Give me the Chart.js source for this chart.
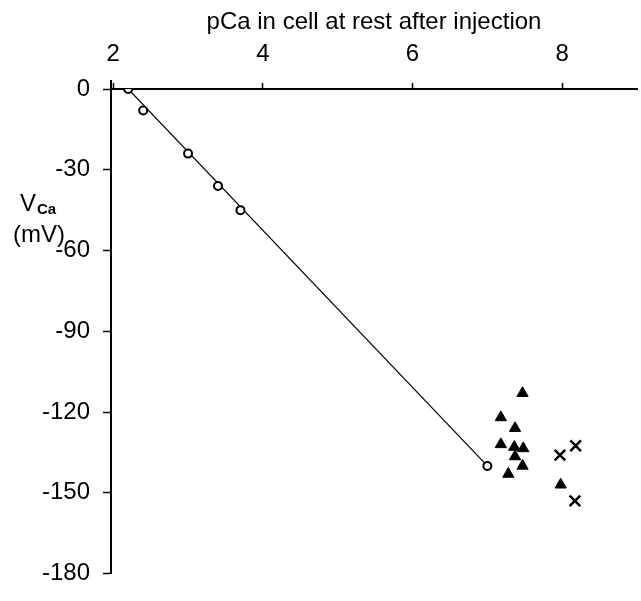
<!DOCTYPE html>
<html>
<head>
<meta charset="utf-8">
<script src="https://cdn.jsdelivr.net/npm/chart.js@4.4.0/dist/chart.umd.min.js"></script>
<style>
  html, body { margin: 0; padding: 0; background: #fff; overflow: hidden; }
  #wrap { width: 647px; height: 601px; }
</style>
</head>
<body>
<div id="wrap"><canvas id="chart" width="647" height="601"></canvas></div>
<script>
'use strict';

// --- data -----------------------------------------------------------
// fitted line through the injection points
const FIT_PCA = [2.2, 7.0];
const FIT_VCA = [0, -140];

// open circles: calcium injections
const INJ_PCA = [2.2, 2.4, 3.0, 3.4, 3.7, 7.0];
const INJ_VCA = [0, -8, -24, -36, -45, -140];

// filled triangles: cells at rest
const REST_PCA = [7.47, 7.18, 7.37, 7.18, 7.36, 7.48, 7.37, 7.47, 7.28, 7.98];
const REST_VCA = [-113, -122, -126, -132, -133, -133.5, -136.5, -140, -143, -147];

// crosses
const X_PCA = [7.97, 8.18, 8.17];
const X_VCA = [-136, -132.5, -153];

const X_TICKS = [2, 4, 6, 8];
const Y_TICKS = [0, -30, -60, -90, -120, -150, -180];

const FONT = 'Arial, "Liberation Sans", sans-serif';

const pts = (xs, ys) => xs.map((x, i) => ({ x, y: ys[i] }));

// y-axis caption with subscript, plus the short stub of the y axis above 0
const captionPlugin = {
  id: 'caption',
  afterDraw(chart) {
    const { ctx, chartArea } = chart;
    ctx.save();
    ctx.strokeStyle = '#000';
    ctx.lineWidth = 2;
    ctx.beginPath();
    ctx.moveTo(chartArea.left, chartArea.top);
    ctx.lineTo(chartArea.left, chartArea.top - 9);
    ctx.stroke();

    ctx.fillStyle = '#000';
    ctx.textBaseline = 'alphabetic';
    ctx.textAlign = 'left';
    ctx.font = '24px ' + FONT;
    ctx.fillText('V', 20, 211);
    ctx.font = 'bold 15px ' + FONT;
    ctx.fillText('Ca', 37, 214);
    ctx.font = '24px ' + FONT;
    ctx.fillText('(mV)', 13, 242);
    ctx.restore();
  }
};

new Chart(document.getElementById('chart'), {
  type: 'scatter',
  data: {
    datasets: [
      {
        type: 'line',
        data: pts(FIT_PCA, FIT_VCA),
        borderColor: '#000',
        borderWidth: 1.2,
        pointRadius: 0,
        fill: false,
        order: 3
      },
      {
        data: pts(INJ_PCA, INJ_VCA),
        pointStyle: 'circle',
        pointRadius: 4,
        borderWidth: 2,
        borderColor: '#000',
        backgroundColor: '#fff',
        order: 2
      },
      {
        data: pts(REST_PCA, REST_VCA),
        pointStyle: 'triangle',
        pointRadius: 6.5,
        borderWidth: 1,
        borderColor: '#000',
        backgroundColor: '#000',
        order: 1
      },
      {
        data: pts(X_PCA, X_VCA),
        pointStyle: 'crossRot',
        pointRadius: 7.5,
        borderWidth: 2.5,
        borderColor: '#000',
        order: 1
      }
    ]
  },
  options: {
    responsive: false,
    animation: false,
    events: [],
    layout: { padding: { top: 0, right: 0, bottom: 9, left: 0 } },
    plugins: {
      legend: { display: false },
      tooltip: { enabled: false }
    },
    scales: {
      x: {
        type: 'linear',
        position: 'top',
        min: 1.97,
        max: 9,
        afterBuildTicks: s => { s.ticks = X_TICKS.map(v => ({ value: v })); },
        afterFit: s => { s.height = 89; },
        grid: {
          drawOnChartArea: false,
          drawTicks: true,
          tickLength: 6,
          tickWidth: 1.5,
          tickColor: '#000'
        },
        border: { display: true, color: '#000', width: 2 },
        ticks: {
          color: '#000',
          font: { family: FONT, size: 24 },
          padding: 14,
          maxRotation: 0
        },
        title: {
          display: true,
          text: 'pCa in cell at rest after injection',
          color: '#000',
          font: { family: FONT, size: 24 },
          padding: { top: 8, bottom: 0 }
        }
      },
      y: {
        type: 'linear',
        min: -180,
        max: 0,
        afterBuildTicks: s => { s.ticks = Y_TICKS.map(v => ({ value: v })); },
        afterFit: s => { s.width = 111; },
        grid: {
          drawOnChartArea: false,
          drawTicks: true,
          tickLength: 8,
          tickWidth: 1.5,
          tickColor: '#000'
        },
        border: { display: true, color: '#000', width: 2 },
        ticks: {
          color: '#000',
          font: { family: FONT, size: 24 },
          padding: 13
        }
      }
    }
  },
  plugins: [captionPlugin]
});
</script>
</body>
</html>
